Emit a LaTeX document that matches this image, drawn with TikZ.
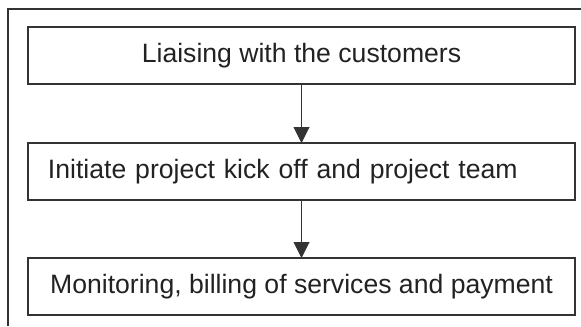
\documentclass[tikz,border=0pt]{standalone}
\usepackage{fontspec}
\setmainfont{Liberation Sans}
\usetikzlibrary{arrows.meta}
\definecolor{linec}{HTML}{333333}
\definecolor{textc}{HTML}{222222}
\tikzset{
  stepbox/.style={draw=linec, line width=1.2bp, minimum width=547bp, minimum height=57bp,
    inner sep=0pt, outer sep=0pt, text=textc, font=\fontsize{26.6bp}{32bp}\selectfont},
  flow/.style={draw=linec, line width=1bp, -{Triangle[width=16bp,length=16bp]}}
}
\begin{document}
\begin{tikzpicture}[x=1bp,y=-1bp]
\useasboundingbox (0,0) rectangle (581,326);
\draw[draw=linec, line width=1.4bp] (8,326) -- (8,9) -- (581,9);
\node[stepbox] (b1) at (301.5,55.5) {Liaising with the customers};
\node[stepbox, text width=507bp, align=left, inner xsep=20bp] (b2) at (301.5,171.5) {Initiate project kick off and project team};
\node[stepbox] (b3) at (301.5,286.5) {Monitoring, billing of services and payment};
\draw[flow] (b1.south) -- (b2.north);
\draw[flow] (b2.south) -- (b3.north);
\end{tikzpicture}
\end{document}
